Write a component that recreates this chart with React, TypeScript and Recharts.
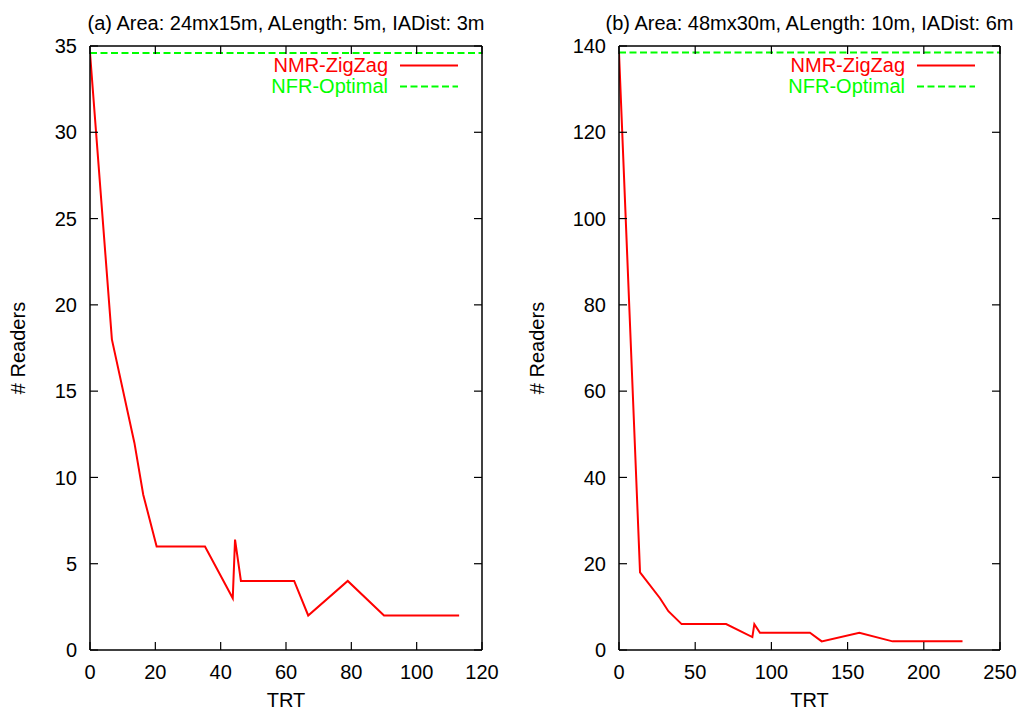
import React from 'react';
import { LineChart, Line, XAxis, YAxis, Legend } from 'recharts';

// ---------- data ----------
const seriesNames = ['NMR-ZigZag', 'NFR-Optimal'];

const titleA = '(a) Area: 24mx15m, ALength: 5m, IADist: 3m';
const trtA = [0, 6.7, 13.6, 16.3, 20.4, 35.2, 43.7, 44.4, 46.2, 62.5, 66.8, 78.9, 90, 113];
const nmrA = [34.6, 18, 12, 9, 6, 6, 3, 6.4, 4, 4, 2, 4, 2, 2];
const nfrTrtA = [0, 120];
const nfrA = [34.6, 34.6];
const xTicksA = [0, 20, 40, 60, 80, 100, 120];
const yTicksA = [0, 5, 10, 15, 20, 25, 30, 35];

const titleB = '(b) Area: 48mx30m, ALength: 10m, IADist: 6m';
const trtB = [0, 13.8, 26.9, 32.4, 41.1, 70.3, 87.5, 88.8, 92.5, 125.3, 133, 157.7, 179.5, 225.4];
const nmrB = [138.5, 18, 12, 9, 6, 6, 3, 6, 4, 4, 2, 4, 2, 2];
const nfrTrtB = [0, 250];
const nfrB = [138.5, 138.5];
const xTicksB = [0, 50, 100, 150, 200, 250];
const yTicksB = [0, 20, 40, 60, 80, 100, 120, 140];

const xLabel = 'TRT';
const yLabel = '# Readers';

// ---------- style ----------
const FONT = '"Liberation Sans", Arial, Helvetica, sans-serif';
const FS = 20;
const RED = '#ff0000';
const GREEN = '#00ff00';
const CH = 711;
const TOP = 46;
const XAXIS_H = 61;
const TICK_LEN = 8;

type PanelProps = {
  left: number;
  width: number;
  yAxisW: number;
  marginRight: number;
  title: string;
  trt: number[];
  nmr: number[];
  nfrTrt: number[];
  nfr: number[];
  xTicks: number[];
  yTicks: number[];
  yLabelX: number;
  legendRight: number;
};

const lineStyles: Record<string, { color: string; dash?: string }> = {
  'NMR-ZigZag': { color: RED },
  'NFR-Optimal': { color: GREEN, dash: '7 3.5' },
};

const LegendContent = (props: any) => {
  const payload = [...(props.payload || [])].sort(
    (a: any, b: any) => seriesNames.indexOf(a.value) - seriesNames.indexOf(b.value)
  );
  return (
    <div style={{ display: 'flex', flexDirection: 'column', alignItems: 'flex-end', width: '100%' }}>
      {payload.map((p: any) => {
        const st = lineStyles[p.value] || { color: p.color };
        return (
          <div key={p.value} style={{ display: 'flex', alignItems: 'center', height: 21, justifyContent: 'flex-end' }}>
            <span style={{ color: st.color, fontFamily: FONT, fontSize: FS, lineHeight: '21px' }}>{p.value}</span>
            <svg width={58} height={21} style={{ marginLeft: 12, display: 'block' }}>
              <line x1={0} y1={10.5} x2={58} y2={10.5} stroke={st.color} strokeWidth={2} strokeDasharray={st.dash} />
            </svg>
          </div>
        );
      })}
    </div>
  );
};

const XTick = (props: any) => {
  const { payload, plotTop, plotBottom } = props;
  const x = payload.coordinate;
  return (
    <g>
      <line x1={x} x2={x} y1={plotBottom} y2={plotBottom - TICK_LEN} stroke="#000" strokeWidth={1.2} />
      <line x1={x} x2={x} y1={plotTop} y2={plotTop + TICK_LEN} stroke="#000" strokeWidth={1.2} />
      <text x={x} y={plotBottom + 29} textAnchor="middle" fill="#000" fontSize={FS} fontFamily={FONT}>
        {payload.value}
      </text>
    </g>
  );
};

const YTick = (props: any) => {
  const { payload, plotLeft, plotRight } = props;
  const y = payload.coordinate;
  return (
    <g>
      <line x1={plotLeft} x2={plotLeft + TICK_LEN} y1={y} y2={y} stroke="#000" strokeWidth={1.2} />
      <line x1={plotRight} x2={plotRight - TICK_LEN} y1={y} y2={y} stroke="#000" strokeWidth={1.2} />
      <text x={plotLeft - 13} y={y} dy="0.36em" textAnchor="end" fill="#000" fontSize={FS} fontFamily={FONT}>
        {payload.value}
      </text>
    </g>
  );
};

const Panel = (p: PanelProps) => {
  const nmrData = p.trt.map((t, i) => ({ trt: t, v: p.nmr[i] }));
  const nfrData = p.nfrTrt.map((t, i) => ({ trt: t, v: p.nfr[i] }));
  const xMax = p.xTicks[p.xTicks.length - 1];
  const yMax = p.yTicks[p.yTicks.length - 1];
  const plotL = p.yAxisW;
  const plotR = p.width - p.marginRight;
  const plotB = CH - XAXIS_H;
  const cx = (plotL + plotR) / 2;
  const cy = (TOP + plotB) / 2;
  const axisLine = { stroke: '#000', strokeWidth: 1.5 };
  return (
    <div style={{ position: 'absolute', left: p.left, top: 0, width: p.width, height: CH }}>
      <LineChart
        width={p.width}
        height={CH}
        margin={{ top: TOP, right: p.marginRight, bottom: 0, left: 0 }}
        style={{ fontFamily: FONT }}
      >
        <XAxis
          xAxisId="main"
          type="number"
          dataKey="trt"
          domain={[0, xMax]}
          ticks={p.xTicks}
          allowDataOverflow
          height={XAXIS_H}
          tick={<XTick plotTop={TOP} plotBottom={plotB} />}
          tickLine={false}
          axisLine={axisLine}
        />
        <XAxis
          xAxisId="top"
          orientation="top"
          type="number"
          dataKey="trt"
          domain={[0, xMax]}
          ticks={p.xTicks}
          mirror
          tick={false}
          tickLine={false}
          axisLine={axisLine}
        />
        <YAxis
          yAxisId="main"
          type="number"
          domain={[0, yMax]}
          ticks={p.yTicks}
          allowDataOverflow
          width={p.yAxisW}
          tick={<YTick plotLeft={plotL} plotRight={plotR} />}
          tickLine={false}
          axisLine={axisLine}
        />
        <YAxis
          yAxisId="right"
          orientation="right"
          type="number"
          domain={[0, yMax]}
          ticks={p.yTicks}
          mirror
          tick={false}
          tickLine={false}
          axisLine={axisLine}
        />
        <Line
          xAxisId="main"
          yAxisId="main"
          data={nmrData}
          dataKey="v"
          name={seriesNames[0]}
          type="linear"
          stroke={RED}
          strokeWidth={2}
          dot={false}
          activeDot={false}
          isAnimationActive={false}
        />
        <Line
          xAxisId="main"
          yAxisId="main"
          data={nfrData}
          dataKey="v"
          name={seriesNames[1]}
          type="linear"
          stroke={GREEN}
          strokeWidth={2}
          strokeDasharray="7 3.5"
          dot={false}
          activeDot={false}
          isAnimationActive={false}
        />
        <Legend
          layout="horizontal"
          verticalAlign="middle"
          align="center"
          content={<LegendContent />}
          wrapperStyle={{ top: 55, left: p.legendRight - 400, width: 400, right: 'auto', bottom: 'auto', height: 42 }}
        />
      </LineChart>
      <svg
        width={p.width}
        height={CH}
        style={{ position: 'absolute', left: 0, top: 0, pointerEvents: 'none' }}
        fontFamily={FONT}
        fontSize={FS}
      >
        <text x={cx} y={30} textAnchor="middle" fill="#000">{p.title}</text>
        <text x={cx} y={707} textAnchor="middle" fill="#000">{xLabel}</text>
        <text
          x={p.yLabelX}
          y={cy}
          textAnchor="middle"
          dominantBaseline="central"
          transform={`rotate(-90 ${p.yLabelX} ${cy})`}
          fill="#000"
        >
          {yLabel}
        </text>
      </svg>
    </div>
  );
};

export default function App() {
  return (
    <div style={{ position: 'absolute', left: 0, top: 0, width: 1021, height: 711, background: '#fff', overflow: 'hidden' }}>
      <Panel
        left={0}
        width={510}
        yAxisW={90}
        marginRight={28}
        title={titleA}
        trt={trtA}
        nmr={nmrA}
        nfrTrt={nfrTrtA}
        nfr={nfrA}
        xTicks={xTicksA}
        yTicks={yTicksA}
        yLabelX={18}
        legendRight={458}
      />
      <Panel
        left={510}
        width={511}
        yAxisW={109}
        marginRight={21}
        title={titleB}
        trt={trtB}
        nmr={nmrB}
        nfrTrt={nfrTrtB}
        nfr={nfrB}
        xTicks={xTicksB}
        yTicks={yTicksB}
        yLabelX={27}
        legendRight={465}
      />
    </div>
  );
}
